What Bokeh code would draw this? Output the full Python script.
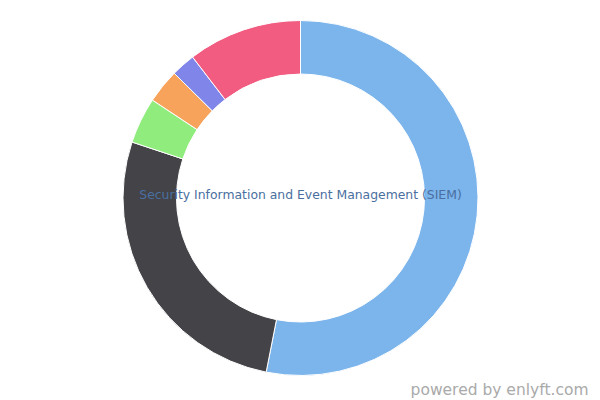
import numpy as np
from bokeh.plotting import figure
from bokeh.models import Range1d, ColumnDataSource
from bokeh.core.properties import value
from bokeh.embed import file_html
from bokeh.resources import INLINE

categories = ["Segment A", "Segment B", "Segment C", "Segment D", "Segment E", "Segment F"]
shares = [53.1, 27.0, 4.2, 3.1, 2.2, 10.4]
colors = ["#7cb5ec", "#434348", "#90ed7d", "#f7a35c", "#8085e9", "#f15c80"]
title_text = "Security Information and Event Management (SIEM)"
credit_text = "powered by enlyft.com"

W, H = 600, 400
p = figure(width=W, height=H, output_backend="svg", toolbar_location=None,
           x_range=Range1d(0, W), y_range=Range1d(0, H),
           min_border=0, outline_line_color=None, background_fill_color="white")
p.axis.visible = False
p.grid.visible = False

frac = np.array(shares) / sum(shares)
cum = np.concatenate([[0], np.cumsum(frac)])
start = np.pi / 2 - cum[:-1] * 2 * np.pi
end = np.pi / 2 - cum[1:] * 2 * np.pi
src = ColumnDataSource(dict(cat=categories, start=start, end=end, color=colors))

cx, cy = 300, 400 - 197.5
p.annular_wedge(x=cx, y=cy, inner_radius=124, outer_radius=177.5,
                inner_radius_units="screen", outer_radius_units="screen",
                start_angle="start", end_angle="end", direction="clock",
                fill_color="color", line_color="white", line_width=1, source=src)

p.text(x=[cx], y=[400 - 193.5], text=[title_text], text_align="center",
       text_baseline="middle", text_font=value("DejaVu Sans"),
       text_font_size="12.4px", text_color="#4a6fa0")
p.text(x=[588], y=[400 - 389], text=[credit_text], text_align="right",
       text_baseline="middle", text_font=value("DejaVu Sans"),
       text_font_size="15.5px", text_color="#aaaaaa")

open("out.html", "w").write(file_html(p, INLINE))
